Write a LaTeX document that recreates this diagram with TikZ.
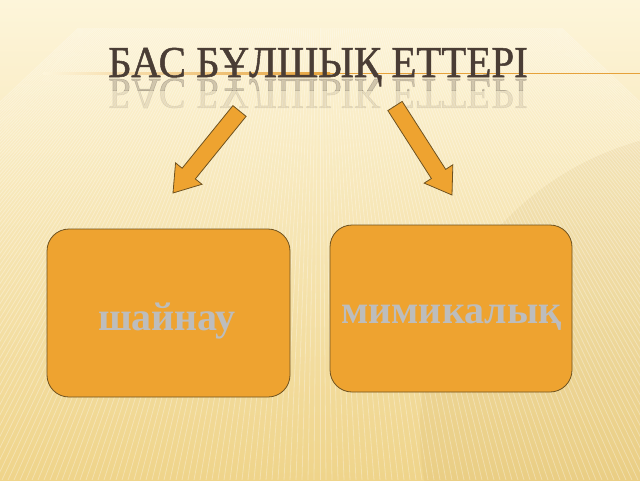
\documentclass[tikz,border=0pt]{standalone}
\usepackage{fontspec}
\setmainfont{Liberation Serif}
\newfontfamily\titlefont[FakeBold=1.2]{Liberation Serif}
\usetikzlibrary{calc}
\definecolor{bgtop}{HTML}{FDF5DA}
\definecolor{bgmid}{HTML}{FBEBBE}
\definecolor{bgbot}{HTML}{EFD48A}
\definecolor{boxfill}{HTML}{EEA330}
\definecolor{boxline}{HTML}{6E5220}
\definecolor{titlecol}{HTML}{4A3D35}
\definecolor{labelcol}{HTML}{BDBDBD}
\definecolor{rulecol}{HTML}{E6A23A}
\definecolor{arccol}{HTML}{C8A860}
\begin{document}
\begin{tikzpicture}[x=1pt,y=1pt,
  card/.style={draw=boxline, line width=0.8pt, fill=boxfill, rounded corners=22pt},
  lbl/.style={font=\bfseries\fontsize{40}{40}\selectfont, text=labelcol, inner sep=0pt, anchor=base},
  titletext/.style={font=\titlefont\fontsize{44}{44}\selectfont, text=titlecol, inner sep=0pt, anchor=base west, xscale=0.93},
  blockarrow/.style={draw=boxline, line width=0.8pt, fill=boxfill, line join=miter},
  stripe/.style={white, opacity=0.3, line width=0.8pt}]
\useasboundingbox (0,0) rectangle (640,-480);
% background
\shade[top color=bgtop, middle color=bgmid, bottom color=bgbot] (0,0) rectangle (640,-480);
\fill[arccol, opacity=0.12] (720,-430) circle (300);
\begin{scope}
  \clip (0,-28) rectangle (640,-480);
  \foreach \k in {-120,...,120} \draw[stripe] (320,200) -- ({320+\k*6},-480);
\end{scope}
% rule
\shade[left color=bgtop, right color=rulecol] (43,-72.5) rectangle (330,-74);
\fill[rulecol] (330,-72.5) rectangle (640,-74);
% title and reflection
\node[titletext] (title) at (108,-77) {БАС БҰЛШЫҚ ЕТТЕРІ};
\begin{scope}
  \clip (0,-78) rectangle (640,-90);
  \node[titletext, yscale=-1, opacity=0.24] (titlerefl) at (108,-79) {БАС БҰЛШЫҚ ЕТТЕРІ};
\end{scope}
\begin{scope}
  \clip (0,-90) rectangle (640,-110);
  \node[titletext, yscale=-1, opacity=0.1] (titlerefl2) at (108,-79) {БАС БҰЛШЫҚ ЕТТЕРІ};
\end{scope}
% arrows
\coordinate (la-s) at (239.5,-111);
\coordinate (la-t) at (173,-193);
\coordinate (la-n) at ($(la-t)!25pt!(la-s)$);
\draw[blockarrow] ($(la-s)!8.5pt!90:(la-t)$) -- ($(la-n)!8.5pt!90:(la-t)$) -- ($(la-n)!17pt!90:(la-t)$) -- (la-t)
  -- ($(la-n)!17pt!-90:(la-t)$) -- ($(la-n)!8.5pt!-90:(la-t)$) -- ($(la-s)!8.5pt!-90:(la-t)$) -- cycle;
\coordinate (ra-s) at (395,-106);
\coordinate (ra-t) at (452,-195);
\coordinate (ra-n) at ($(ra-t)!25pt!(ra-s)$);
\draw[blockarrow] ($(ra-s)!8.5pt!90:(ra-t)$) -- ($(ra-n)!8.5pt!90:(ra-t)$) -- ($(ra-n)!17pt!90:(ra-t)$) -- (ra-t)
  -- ($(ra-n)!17pt!-90:(ra-t)$) -- ($(ra-n)!8.5pt!-90:(ra-t)$) -- ($(ra-s)!8.5pt!-90:(ra-t)$) -- cycle;
% boxes
\node[card, minimum width=243pt, minimum height=168pt] (shaynau) at (168.5,-313) {};
\node[card, minimum width=242pt, minimum height=167pt] (mimik) at (451,-308.5) {};
\node[lbl] (shaynau-t) at (167,-330) {шайнау};
\node[lbl] (mimik-t) at (451.5,-323) {мимикалық};
\end{tikzpicture}
\end{document}
